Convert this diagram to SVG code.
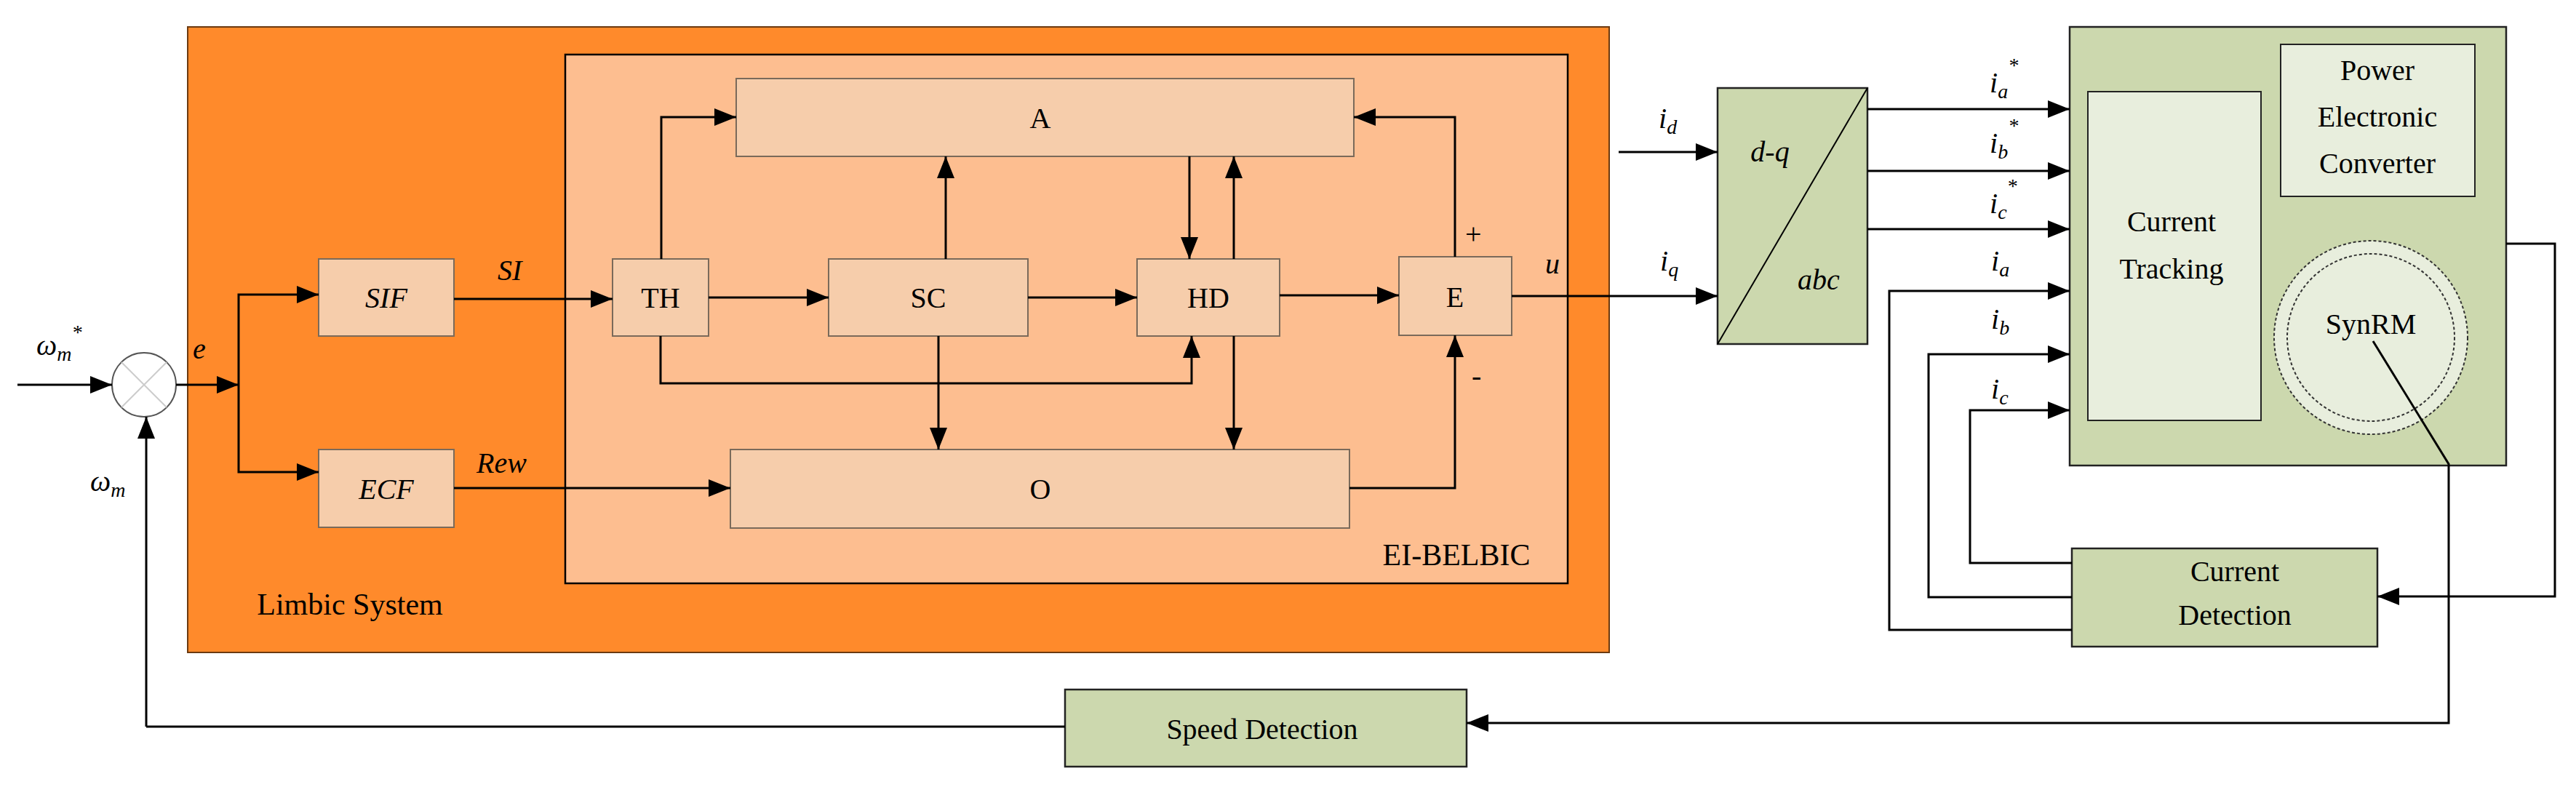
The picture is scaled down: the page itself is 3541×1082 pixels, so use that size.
<svg xmlns="http://www.w3.org/2000/svg" width="3541" height="1082" viewBox="0 0 3541 1082">
<defs>
<marker id="ar" markerWidth="10" markerHeight="8" refX="10" refY="4" orient="auto" markerUnits="userSpaceOnUse" viewBox="0 0 10 8"><path d="M0,0 L10,4 L0,8 z" fill="#000"/></marker>
<marker id="arb" viewBox="0 0 10 8" refX="10" refY="4" markerWidth="30" markerHeight="24" orient="auto" markerUnits="userSpaceOnUse"><path d="M0,0 L10,4 L0,8 z" fill="#000"/></marker>
</defs>
<style>
text{font-family:"Liberation Serif","Times New Roman",serif;fill:#000}
.t{font-size:40px;text-anchor:middle}
.i{font-style:italic}
.b{fill:#F6CDAB;stroke:#7a6a5a;stroke-width:2}
.g{fill:#CCD8AE;stroke:#222;stroke-width:2.5}
.lg{fill:#E8EEDD;stroke:#222;stroke-width:2}
.c{fill:none;stroke:#000;stroke-width:3;marker-end:url(#arb)}
.n{fill:none;stroke:#000;stroke-width:3}
</style>
<rect x="258" y="37" width="1954" height="860" fill="#FF8A2B" stroke="#6b3a10" stroke-width="2"/>
<rect x="777" y="75" width="1378" height="727" fill="#FDBE90" stroke="#000" stroke-width="2.5"/>
<text x="481" y="845" style="font-size:42px" text-anchor="middle">Limbic System</text>
<text x="2002" y="777" style="font-size:42px" text-anchor="middle">EI-BELBIC</text>
<g id="sum"><circle cx="198" cy="529" r="44" fill="#fff" stroke="#555" stroke-width="2"/><path d="M167,498 L229,560 M229,498 L167,560" stroke="#ccc" stroke-width="2"/></g>
<g id="SIF"><rect class="b" x="438" y="356" width="186" height="106"/><text class="t i" x="531" y="423">SIF</text></g>
<g id="ECF"><rect class="b" x="438" y="618" width="186" height="107"/><text class="t i" x="531" y="686">ECF</text></g>
<g id="TH"><rect class="b" x="842" y="356" width="132" height="106"/><text class="t" x="908" y="423">TH</text></g>
<g id="SC"><rect class="b" x="1139" y="356" width="274" height="106"/><text class="t" x="1276" y="423">SC</text></g>
<g id="HD"><rect class="b" x="1563" y="356" width="196" height="106"/><text class="t" x="1661" y="423">HD</text></g>
<g id="E"><rect class="b" x="1923" y="353" width="155" height="108"/><text class="t" x="2000" y="422">E</text></g>
<g id="A"><rect class="b" x="1012" y="108" width="849" height="107"/><text class="t" x="1430" y="176">A</text></g>
<g id="O"><rect class="b" x="1004" y="618" width="851" height="108"/><text class="t" x="1430" y="686">O</text></g>
<g id="dq"><rect class="g" x="2361" y="121" width="206" height="352"/><path d="M2567,121 L2361,473" stroke="#000" stroke-width="2"/><text class="t i" x="2433" y="222">d-q</text><text class="t i" x="2500" y="398">abc</text></g>
<g id="conv"><rect class="g" x="2845" y="37" width="600" height="603"/></g>
<g id="CT"><rect class="lg" x="2870" y="126" width="238" height="452"/><text class="t" x="2985" y="318">Current</text><text class="t" x="2985" y="383">Tracking</text></g>
<g id="PEC"><rect class="lg" x="3135" y="61" width="267" height="209"/><text class="t" x="3268" y="110">Power</text><text class="t" x="3268" y="174">Electronic</text><text class="t" x="3268" y="238">Converter</text></g>
<g id="SynRM"><circle cx="3259" cy="464" r="133" fill="#E8EEDD" stroke="#333" stroke-width="2" stroke-dasharray="4,3"/><circle cx="3259" cy="464" r="115" fill="none" stroke="#333" stroke-width="2" stroke-dasharray="4,3"/><text class="t" x="3259" y="459">SynRM</text></g>
<g id="CD"><rect class="g" x="2848" y="754" width="420" height="135"/><text class="t" x="3072" y="799">Current</text><text class="t" x="3072" y="859">Detection</text></g>
<g id="SD"><rect class="g" x="1464" y="948" width="552" height="106"/><text class="t" x="1735" y="1016">Speed Detection</text></g>
<g id="connectors">
<path class="c" d="M24,529 L154,529"/>
<path class="c" d="M242,529 L328,529"/>
<path class="c" d="M328,529 L328,405 L438,405"/>
<path class="c" d="M328,529 L328,649 L438,649"/>
<path class="c" d="M624,411 L842,411"/>
<path class="c" d="M624,671 L1004,671"/>
<path class="c" d="M909,356 L909,161 L1012,161"/>
<path class="c" d="M908,462 L908,527 L1638,527 L1638,462"/>
<path class="c" d="M974,409 L1139,409"/>
<path class="c" d="M1300,356 L1300,215"/>
<path class="c" d="M1290,462 L1290,618"/>
<path class="c" d="M1413,409 L1563,409"/>
<path class="c" d="M1635,215 L1635,356"/>
<path class="c" d="M1696,356 L1696,215"/>
<path class="c" d="M1696,462 L1696,618"/>
<path class="c" d="M1759,406 L1923,406"/>
<path class="c" d="M2000,353 L2000,161 L1861,161"/>
<path class="c" d="M1855,671 L2000,671 L2000,461"/>
<path class="c" d="M2078,407 L2361,407"/>
<path class="c" d="M2225,209 L2361,209"/>
<path class="c" d="M2567,150 L2845,150"/>
<path class="c" d="M2567,235 L2845,235"/>
<path class="c" d="M2567,315 L2845,315"/>
<path class="c" d="M2848,866 L2597,866 L2597,400 L2845,400"/>
<path class="c" d="M2848,821 L2651,821 L2651,487 L2845,487"/>
<path class="c" d="M2848,774 L2708,774 L2708,564 L2845,564"/>
<path class="c" d="M3445,335 L3512,335 L3512,820 L3268,820"/>
<path class="c" d="M3262,469 L3366,638 L3366,994 L2016,994"/>
<path class="n" d="M1464,999 L201,999"/>
<path class="c" d="M201,999 L201,573"/>
</g>
<text class="i" x="50" y="488" style="font-size:40px">ω<tspan style="font-size:28px" dy="8">m</tspan><tspan style="font-size:28px" dy="-30">*</tspan></text>
<text class="i" x="265" y="493" style="font-size:40px">e</text>
<text class="i" x="124" y="675" style="font-size:40px">ω<tspan style="font-size:28px" dy="8">m</tspan></text>
<text class="i" x="684" y="385" style="font-size:40px">SI</text>
<text class="i" x="655" y="650" style="font-size:40px">Rew</text>
<text x="2014" y="335" style="font-size:40px">+</text>
<text x="2023" y="530" style="font-size:40px">-</text>
<text class="i" x="2124" y="376" style="font-size:40px">u</text>
<text class="i" x="2280" y="176" style="font-size:40px">i<tspan style="font-size:28px" dy="8">d</tspan></text>
<text class="i" x="2282" y="372" style="font-size:40px">i<tspan style="font-size:28px" dy="8">q</tspan></text>
<text class="i" x="2735" y="127" style="font-size:40px">i<tspan style="font-size:28px" dy="8">a</tspan><tspan style="font-size:28px" dy="-36">*</tspan></text>
<text class="i" x="2735" y="210" style="font-size:40px">i<tspan style="font-size:28px" dy="8">b</tspan><tspan style="font-size:28px" dy="-36">*</tspan></text>
<text class="i" x="2735" y="293" style="font-size:40px">i<tspan style="font-size:28px" dy="8">c</tspan><tspan style="font-size:28px" dy="-36">*</tspan></text>
<text class="i" x="2737" y="372" style="font-size:40px">i<tspan style="font-size:28px" dy="8">a</tspan></text>
<text class="i" x="2737" y="452" style="font-size:40px">i<tspan style="font-size:28px" dy="8">b</tspan></text>
<text class="i" x="2737" y="548" style="font-size:40px">i<tspan style="font-size:28px" dy="8">c</tspan></text>
</svg>
